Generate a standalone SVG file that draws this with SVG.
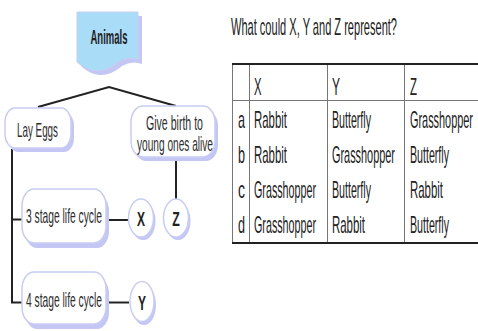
<svg xmlns="http://www.w3.org/2000/svg" width="478" height="331" viewBox="0 0 478 331">
<style>
.bg{fill:#ffffff}
.sh{fill:#c4c7f4}
.nd{fill:#ffffff;stroke:#c9cdf2;stroke-width:1.5}
.conn{stroke:#222222;stroke-width:2;fill:none}
.lt{font-family:"Liberation Sans",Arial,sans-serif;font-size:21px;fill:#2e2e2e}
.lb{font-family:"Liberation Sans",Arial,sans-serif;font-size:20px;font-weight:bold;fill:#222222}
.tt{font-family:"Liberation Sans",Arial,sans-serif;font-size:24px;fill:#222222}
.thick{stroke:#222222;stroke-width:2}
.thin{stroke:#777777;stroke-width:1}
</style>
<rect class="bg" x="0" y="0" width="478" height="331"/>

<g id="connectors">
<path class="conn" d="M38,107 L109,87 L176,106"/>
<path class="conn" d="M12,149 V302.5 H22 M12,219.5 H22"/>
<path class="conn" d="M108,220 H128"/>
<path class="conn" d="M109,302.5 H129"/>
<path class="conn" d="M176,158 V199"/>
</g>

<g id="node-animals">
<path class="sh" d="M81,16 H142 V64 Q132,60 122,66 Q108,78 94,74 Q86,71 81,66 Z"/>
<path fill="#a9dcf7" stroke="#c9cdf2" stroke-width="1" d="M77,12 H138 V60 Q128,56 118,62 Q104,74 90,70 Q82,67 77,62 Z"/>
<text class="lb" x="109" y="44" text-anchor="middle" textLength="37" lengthAdjust="spacingAndGlyphs">Animals</text>
</g>

<g id="node-lay-eggs">
<rect class="sh" x="8" y="112" width="66" height="40" rx="10" ry="14"/>
<rect class="nd" x="5" y="108" width="66" height="40" rx="10" ry="14"/>
<text class="lt" x="17" y="137" textLength="41" lengthAdjust="spacingAndGlyphs">Lay Eggs</text>
</g>

<g id="node-give-birth">
<rect class="sh" x="134" y="110" width="84" height="51" rx="12" ry="16"/>
<rect class="nd" x="131" y="106" width="84" height="51" rx="12" ry="16"/>
<text class="lt" x="146" y="130" textLength="57" lengthAdjust="spacingAndGlyphs">Give birth to</text>
<text class="lt" x="137" y="150.5" textLength="76" lengthAdjust="spacingAndGlyphs">young ones alive</text>
</g>

<g id="node-3-stage">
<rect class="sh" x="25" y="194" width="84" height="54" rx="12" ry="17"/>
<rect class="nd" x="22" y="189" width="84" height="54" rx="12" ry="17"/>
<text class="lt" x="26" y="222.5" textLength="76" lengthAdjust="spacingAndGlyphs">3 stage life cycle</text>
</g>

<g id="node-4-stage">
<rect class="sh" x="25" y="277" width="84" height="52" rx="12" ry="17"/>
<rect class="nd" x="22" y="272" width="84" height="52" rx="12" ry="17"/>
<text class="lt" x="26" y="306.5" textLength="76" lengthAdjust="spacingAndGlyphs">4 stage life cycle</text>
</g>

<g id="node-x">
<ellipse class="sh" cx="143" cy="221" rx="12.5" ry="19"/>
<ellipse class="nd" cx="141" cy="218" rx="12.5" ry="19"/>
<text class="lb" x="141" y="226" text-anchor="middle" textLength="8" lengthAdjust="spacingAndGlyphs">X</text>
</g>

<g id="node-z">
<ellipse class="sh" cx="178" cy="221" rx="12.5" ry="19"/>
<ellipse class="nd" cx="176" cy="218" rx="12.5" ry="19"/>
<text class="lb" x="176" y="226" text-anchor="middle" textLength="7.5" lengthAdjust="spacingAndGlyphs">Z</text>
</g>

<g id="node-y">
<ellipse class="sh" cx="144" cy="305" rx="12" ry="20"/>
<ellipse class="nd" cx="142" cy="301.5" rx="12" ry="20"/>
<text class="lb" x="142" y="309.5" text-anchor="middle" textLength="8" lengthAdjust="spacingAndGlyphs">Y</text>
</g>

<g id="question">
<text class="tt" x="231" y="35" textLength="166" lengthAdjust="spacingAndGlyphs">What could X, Y and Z represent?</text>
</g>

<g id="table">
<line class="thin" x1="232.5" y1="64" x2="232.5" y2="243"/>
<line class="thin" x1="249.5" y1="64" x2="249.5" y2="243"/>
<line class="thin" x1="327.5" y1="64" x2="327.5" y2="243"/>
<line class="thin" x1="404.5" y1="64" x2="404.5" y2="243"/>
<line class="thin" x1="232" y1="100.5" x2="478" y2="100.5"/>
<line class="thick" x1="232" y1="64" x2="478" y2="64"/>
<line class="thick" x1="232" y1="243" x2="478" y2="243"/>

<text class="tt" x="254" y="95" textLength="7.5" lengthAdjust="spacingAndGlyphs">X</text>
<text class="tt" x="332" y="95" textLength="8" lengthAdjust="spacingAndGlyphs">Y</text>
<text class="tt" x="410" y="95" textLength="7" lengthAdjust="spacingAndGlyphs">Z</text>

<text class="tt" x="238" y="128" textLength="7" lengthAdjust="spacingAndGlyphs">a</text>
<text class="tt" x="254" y="128" textLength="33" lengthAdjust="spacingAndGlyphs">Rabbit</text>
<text class="tt" x="332" y="128" textLength="39" lengthAdjust="spacingAndGlyphs">Butterfly</text>
<text class="tt" x="410" y="128" textLength="63" lengthAdjust="spacingAndGlyphs">Grasshopper</text>

<text class="tt" x="238" y="162.5" textLength="7" lengthAdjust="spacingAndGlyphs">b</text>
<text class="tt" x="254" y="162.5" textLength="33" lengthAdjust="spacingAndGlyphs">Rabbit</text>
<text class="tt" x="332" y="162.5" textLength="63" lengthAdjust="spacingAndGlyphs">Grasshopper</text>
<text class="tt" x="410" y="162.5" textLength="39" lengthAdjust="spacingAndGlyphs">Butterfly</text>

<text class="tt" x="238" y="198" textLength="7" lengthAdjust="spacingAndGlyphs">c</text>
<text class="tt" x="254" y="198" textLength="62" lengthAdjust="spacingAndGlyphs">Grasshopper</text>
<text class="tt" x="332" y="198" textLength="39" lengthAdjust="spacingAndGlyphs">Butterfly</text>
<text class="tt" x="410" y="198" textLength="33" lengthAdjust="spacingAndGlyphs">Rabbit</text>

<text class="tt" x="238" y="233" textLength="7" lengthAdjust="spacingAndGlyphs">d</text>
<text class="tt" x="254" y="233" textLength="62" lengthAdjust="spacingAndGlyphs">Grasshopper</text>
<text class="tt" x="332" y="233" textLength="33" lengthAdjust="spacingAndGlyphs">Rabbit</text>
<text class="tt" x="410" y="233" textLength="39" lengthAdjust="spacingAndGlyphs">Butterfly</text>
</g>
</svg>
